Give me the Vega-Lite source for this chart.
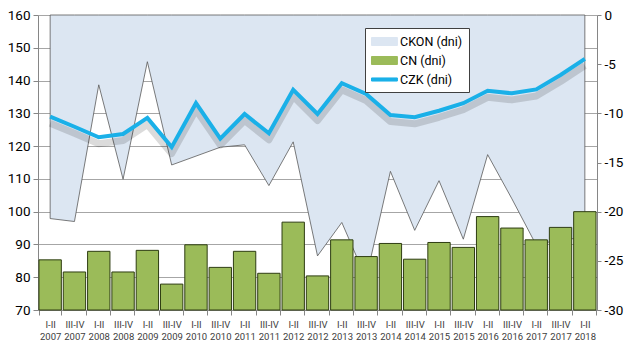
{
  "$schema": "https://vega.github.io/schema/vega-lite/v6.json",
  "width": 559,
  "height": 295,
  "autosize": "none",
  "padding": {"left": 38, "top": 15, "right": 32, "bottom": 44},
  "background": "white",
  "config": {"view": {"stroke": null}, "font": "Roboto"},
  "data": {
    "values": [
      {"period": "I-II 2007", "CN": 85.3, "CZK": 129.0, "CKON": -20.7},
      {"period": "III-IV 2007", "CN": 81.6, "CZK": 125.9, "CKON": -21.0},
      {"period": "I-II 2008", "CN": 87.9, "CZK": 122.7, "CKON": -7.1},
      {"period": "III-IV 2008", "CN": 81.6, "CZK": 123.7, "CKON": -16.7},
      {"period": "I-II 2009", "CN": 88.2, "CZK": 128.6, "CKON": -4.75},
      {"period": "III-IV 2009", "CN": 77.9, "CZK": 119.7, "CKON": -15.25},
      {"period": "I-II 2010", "CN": 89.9, "CZK": 133.1, "CKON": -14.35},
      {"period": "III-IV 2010", "CN": 83.0, "CZK": 122.3, "CKON": -13.45},
      {"period": "I-II 2011", "CN": 87.9, "CZK": 129.8, "CKON": -13.2},
      {"period": "III-IV 2011", "CN": 81.2, "CZK": 123.9, "CKON": -17.35},
      {"period": "I-II 2012", "CN": 96.8, "CZK": 137.2, "CKON": -12.9},
      {"period": "III-IV 2012", "CN": 80.4, "CZK": 129.8, "CKON": -24.5},
      {"period": "I-II 2013", "CN": 91.4, "CZK": 139.2, "CKON": -21.1},
      {"period": "III-IV 2013", "CN": 86.3, "CZK": 135.9, "CKON": -26.8},
      {"period": "I-II 2014", "CN": 90.3, "CZK": 129.5, "CKON": -15.9},
      {"period": "III-IV 2014", "CN": 85.5, "CZK": 128.8, "CKON": -21.9},
      {"period": "I-II 2015", "CN": 90.6, "CZK": 130.8, "CKON": -16.85},
      {"period": "III-IV 2015", "CN": 89.1, "CZK": 133.1, "CKON": -22.8},
      {"period": "I-II 2016", "CN": 98.5, "CZK": 136.9, "CKON": -14.2},
      {"period": "III-IV 2016", "CN": 95.0, "CZK": 136.1, "CKON": -18.7},
      {"period": "I-II 2017", "CN": 91.4, "CZK": 137.3, "CKON": -23.4},
      {"period": "III-IV 2017", "CN": 95.2, "CZK": 141.7, "CKON": -22.8},
      {"period": "I-II 2018", "CN": 100.0, "CZK": 146.6, "CKON": -22.7}
    ]
  },
  "encoding": {
    "x": {
      "field": "period",
      "type": "nominal",
      "sort": null,
      "scale": {"paddingInner": 0.08, "paddingOuter": 0.04},
      "axis": {
        "title": null,
        "labelAngle": 0,
        "tickBand": "extent",
        "domainColor": "#868686",
        "tickColor": "#868686",
        "tickSize": 5,
        "labelFont": "Roboto",
        "labelFontSize": 9.5,
        "labelColor": "#404040",
        "labelPadding": 4,
        "labelLineHeight": 12,
        "labelExpr": "split(datum.label, ' ')"
      }
    }
  },
  "layer": [
    {
      "mark": {"type": "area", "stroke": "#595959", "strokeWidth": 0.8, "opacity": 1},
      "encoding": {
        "y": {
          "field": "CKON",
          "type": "quantitative",
          "scale": {"domain": [-30, 0], "nice": false, "zero": false},
          "axis": {
            "orient": "right",
            "title": null,
            "grid": false,
            "values": [-30, -25, -20, -15, -10, -5, 0],
            "domainColor": "#868686",
            "tickColor": "#868686",
            "tickSize": 4,
            "labelFont": "Roboto",
            "labelFontSize": 13.5,
            "labelColor": "#000000",
            "labelPadding": 3,
            "labelExpr": "replace(datum.label, '\u2212', '-')"
          }
        },
        "y2": {"datum": 0},
        "color": {
          "datum": "CKON (dni)",
          "scale": {
            "domain": ["CKON (dni)", "CN (dni)", "CZK (dni)"],
            "range": ["#dce6f2", "#9bbb59", "#1ab0e8"]
          },
          "legend": {
            "orient": "none",
            "legendX": 327,
            "legendY": 13,
            "title": null,
            "fillColor": "white",
            "strokeColor": "#404040",
            "padding": 6,
            "labelFont": "Roboto",
            "labelFontSize": 12.5,
            "labelColor": "#000000",
            "labelOffset": 14,
            "symbolSize": 196,
            "symbolType": "M-1,-0.57H2.7V0.57H-1Z",
            "symbolStrokeColor": "#7f7f7f",
            "symbolStrokeWidth": 1,
            "symbolOpacity": 1,
            "rowPadding": 5,
            "encode": {
              "symbols": {
                "enter": {
                  "shape": {"signal": "datum.value === 'CZK (dni)' ? 'M-1,-0.22H2.7V0.22H-1Z' : 'M-1,-0.57H2.7V0.57H-1Z'"}
                },
                "update": {
                  "shape": {"signal": "datum.value === 'CZK (dni)' ? 'M-1,-0.22H2.7V0.22H-1Z' : 'M-1,-0.57H2.7V0.57H-1Z'"},
                  "fill": {"signal": "datum.value === 'CKON (dni)' ? '#dce6f2' : datum.value === 'CN (dni)' ? '#9bbb59' : '#1ab0e8'"},
                  "stroke": {"signal": "datum.value === 'CKON (dni)' ? '#7f7f7f' : datum.value === 'CN (dni)' ? '#3a4d1c' : '#1ab0e8'"}
                }
              }
            }
          }
        }
      }
    },
    {
      "mark": {"type": "bar", "stroke": "#2e3d12", "strokeWidth": 1},
      "encoding": {
        "y": {
          "field": "CN",
          "type": "quantitative",
          "scale": {"domain": [70, 160], "nice": false, "zero": false},
          "axis": {
            "orient": "left",
            "title": null,
            "grid": true,
            "gridColor": "#a6a6a6",
            "values": [70, 80, 90, 100, 110, 120, 130, 140, 150, 160],
            "domainColor": "#868686",
            "tickColor": "#868686",
            "tickSize": 5,
            "labelFont": "Roboto",
            "labelFontSize": 13.5,
            "labelColor": "#000000",
            "labelPadding": 3
          }
        },
        "y2": {"datum": 70},
        "color": {"datum": "CN (dni)"}
      }
    },
    {
      "mark": {"type": "line", "stroke": "#000000", "strokeOpacity": 0.14, "strokeWidth": 7, "strokeJoin": "round"},
      "encoding": {
        "y": {
          "field": "CZK",
          "type": "quantitative",
          "scale": {"domain": [72, 162], "nice": false, "zero": false},
          "axis": null
        }
      }
    },
    {
      "mark": {"type": "line", "strokeWidth": 4, "strokeJoin": "miter"},
      "encoding": {
        "y": {
          "field": "CZK",
          "type": "quantitative",
          "scale": {"domain": [70, 160], "nice": false, "zero": false},
          "axis": null
        },
        "color": {"datum": "CZK (dni)"}
      }
    }
  ],
  "resolve": {"scale": {"y": "independent"}}
}
